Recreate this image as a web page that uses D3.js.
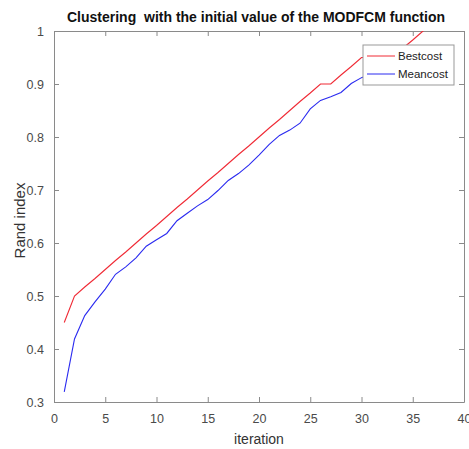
<!DOCTYPE html>
<html>
<head>
<meta charset="utf-8">
<script src="https://cdn.jsdelivr.net/npm/d3@7"></script>
<style>
  body { margin: 0; background: #fff; }
  text { font-family: "Liberation Sans", Arial, sans-serif; }
</style>
</head>
<body>
<svg width="469" height="449"></svg>
<script>
// iterations and the two series
let iterations = [1, 2, 3, 4, 5, 6, 7, 8, 9, 10, 11, 12, 13, 14, 15, 16, 17, 18,
    19, 20, 21, 22, 23, 24, 25, 26, 27, 28, 29, 30, 31, 32, 33, 34, 35, 36, 37];
let bestcost = [0.45, 0.5, 0.517, 0.533, 0.55, 0.567, 0.583, 0.6, 0.617, 0.633,
    0.65, 0.667, 0.683, 0.7, 0.717, 0.733, 0.75, 0.767, 0.783, 0.8, 0.817, 0.833,
    0.85, 0.867, 0.883, 0.9, 0.9, 0.917, 0.933, 0.95, 0.95, 0.95, 0.95, 0.967,
    0.983, 1.0, 1.017];
let meancost = [0.319, 0.419, 0.463, 0.489, 0.513, 0.541, 0.555, 0.572, 0.594,
    0.606, 0.618, 0.642, 0.656, 0.67, 0.682, 0.699, 0.718, 0.731, 0.747, 0.766,
    0.786, 0.803, 0.813, 0.826, 0.853, 0.869, 0.876, 0.884, 0.901, 0.912, 0.92,
    0.928, 0.935, 0.942, 0.948, 0.953, 0.958];
let xTicks = [0, 5, 10, 15, 20, 25, 30, 35, 40];
let yTicks = [0.3, 0.4, 0.5, 0.6, 0.7, 0.8, 0.9, 1];
let seriesNames = ['Bestcost', 'Meancost'];
let seriesColors = ['#f02a35', '#2a2af0'];

let svg = d3.select('svg');
let mLeft = 54, mRight = 464, mTop = 31, mBottom = 402;
let axisColor = '#8a8a8a';
let labelColor = '#4a4a4a';

let x = d3.scaleLinear().domain([0, 40]).range([mLeft, mRight]);
let y = d3.scaleLinear().domain([0.3, 1]).range([mBottom, mTop]);

svg.append('defs').append('clipPath').attr('id', 'clip')
    .append('rect')
    .attr('x', mLeft).attr('y', mTop)
    .attr('width', mRight - mLeft).attr('height', mBottom - mTop);

// axes, MATLAB style: ticks inward on all four sides
let gx = svg.append('g').attr('transform', `translate(0,${mBottom})`)
    .call(d3.axisBottom(x).tickValues(xTicks).tickSize(-5).tickPadding(12)
        .tickSizeOuter(0));
let gxTop = svg.append('g').attr('transform', `translate(0,${mTop})`)
    .call(d3.axisTop(x).tickValues(xTicks).tickSize(-5).tickSizeOuter(0)
        .tickFormat(''));
let gy = svg.append('g').attr('transform', `translate(${mLeft},0)`)
    .call(d3.axisLeft(y).tickValues(yTicks).tickSize(-5).tickPadding(10)
        .tickSizeOuter(0).tickFormat(d => d === 1 ? '1' : d3.format('.1f')(d)));
let gyRight = svg.append('g').attr('transform', `translate(${mRight},0)`)
    .call(d3.axisRight(y).tickValues(yTicks).tickSize(-5).tickSizeOuter(0)
        .tickFormat(''));

[gx, gxTop, gy, gyRight].forEach(g => {
    g.selectAll('path').attr('stroke', axisColor);
    g.selectAll('line').attr('stroke', axisColor);
    g.selectAll('text').attr('fill', labelColor).style('font-size', '12.5px');
});

// series lines
let line = d3.line().x((d, i) => x(iterations[i])).y(d => y(d));
let plot = svg.append('g').attr('clip-path', 'url(#clip)');
[bestcost, meancost].forEach((vals, k) => {
    plot.append('path')
        .datum(vals)
        .attr('fill', 'none')
        .attr('stroke', seriesColors[k])
        .attr('stroke-width', 1.1)
        .attr('d', line);
});

// title and axis labels
svg.append('text')
    .attr('x', (mLeft + mRight) / 2 - 3).attr('y', 22)
    .attr('text-anchor', 'middle')
    .style('font-size', '14px').style('font-weight', 'bold')
    .style('white-space', 'pre')
    .attr('fill', '#111')
    .text('Clustering  with the initial value of the MODFCM function');

svg.append('text')
    .attr('x', (mLeft + mRight) / 2).attr('y', 444)
    .attr('text-anchor', 'middle')
    .style('font-size', '14px').attr('fill', '#333')
    .text('iteration');

svg.append('text')
    .attr('transform', `translate(25,${(mTop + mBottom) / 2 + 4}) rotate(-90)`)
    .attr('text-anchor', 'middle')
    .style('font-size', '15px').attr('fill', '#333')
    .text('Rand index');

// legend
let lg = svg.append('g').attr('transform', 'translate(363,45)');
lg.append('rect')
    .attr('width', 91).attr('height', 40)
    .attr('fill', '#fff').attr('stroke', '#999');
seriesNames.forEach((name, k) => {
    let yy = 11 + k * 18;
    lg.append('line')
        .attr('x1', 4).attr('x2', 32).attr('y1', yy).attr('y2', yy)
        .attr('stroke', seriesColors[k]).attr('stroke-width', 1);
    lg.append('text')
        .attr('x', 35).attr('y', yy + 4)
        .style('font-size', '11.5px').attr('fill', '#222')
        .text(name);
});
</script>
</body>
</html>
